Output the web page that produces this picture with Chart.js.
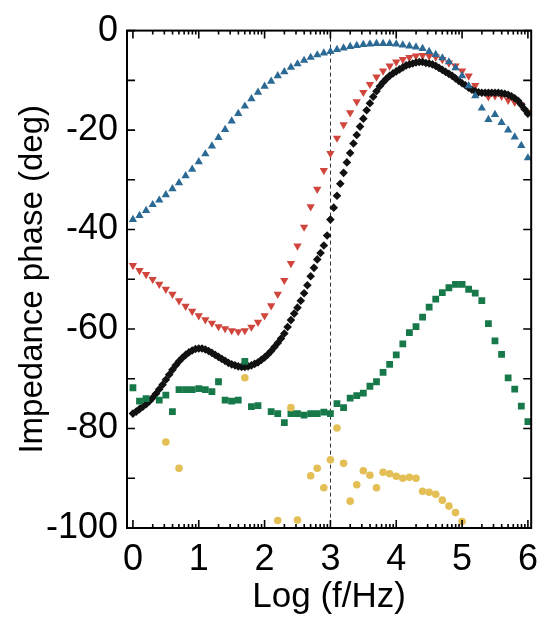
<!DOCTYPE html>
<html>
<head>
<meta charset="utf-8">
<script src="https://cdn.jsdelivr.net/npm/chart.js@4.4.1/dist/chart.umd.min.js"></script>
<style>
  html, body { margin: 0; padding: 0; background: #ffffff; }
  #wrap { width: 548px; height: 620px; }
</style>
</head>
<body>
<div id="wrap"><canvas id="c" width="548" height="620"></canvas></div>
<script>
// ---------------- data ----------------
const logF10 = [0.0,0.1,0.2,0.3,0.4,0.5,0.6,0.7,0.8,0.9,1.0,1.1,1.2,1.3,1.4,1.5,1.6,1.7,1.8,1.9,2.0,2.1,2.2,2.3,2.4,2.5,2.6,2.7,2.8,2.9,3.0,3.1,3.2,3.3,3.4,3.5,3.6,3.7,3.8,3.9,4.0,4.1,4.2,4.3,4.4,4.5,4.6,4.7,4.8,4.9,5.0,5.1,5.2,5.3,5.4,5.5,5.6,5.7,5.8,5.9,6.0];

const bluePhase = [-38.0,-37.2,-36.2,-35.0,-34.1,-33.0,-31.8,-30.6,-29.2,-27.9,-26.4,-24.8,-23.2,-21.5,-19.9,-18.2,-16.7,-15.2,-13.7,-12.4,-11.2,-10.2,-9.1,-8.3,-7.4,-6.7,-6.0,-5.4,-4.9,-4.5,-4.2,-3.8,-3.5,-3.2,-3.0,-2.8,-2.7,-2.6,-2.6,-2.6,-2.7,-2.9,-3.1,-3.3,-3.6,-4.2,-4.8,-5.5,-6.3,-7.5,-9.1,-11.1,-13.1,-15.6,-17.9,-16.9,-18.5,-20.0,-21.4,-23.1,-25.6];

const redPhase = [-47.2,-48.2,-49.0,-50.0,-51.0,-52.0,-53.0,-54.3,-55.4,-56.4,-57.3,-58.1,-58.8,-59.5,-59.9,-60.3,-60.5,-60.3,-59.6,-58.6,-57.3,-55.3,-53.0,-50.2,-46.8,-43.3,-39.5,-35.4,-31.9,-28.1,-24.7,-21.6,-18.9,-16.5,-14.3,-12.4,-10.8,-9.3,-8.1,-7.1,-6.3,-5.8,-5.4,-5.1,-5.0,-5.1,-5.3,-5.8,-6.5,-7.1,-8.1,-9.1,-11.0,-12.4,-13.3,-13.1,-13.2,-14.0,-14.4,-15.0,-16.4];

const logF20 = [0.00,0.05,0.10,0.15,0.20,0.25,0.30,0.35,0.40,0.45,0.50,0.55,0.60,0.65,0.70,0.75,0.80,0.85,0.90,0.95,1.00,1.05,1.10,1.15,1.20,1.25,1.30,1.35,1.40,1.45,1.50,1.55,1.60,1.65,1.70,1.75,1.80,1.85,1.90,1.95,2.00,2.05,2.10,2.15,2.20,2.25,2.30,2.35,2.40,2.45,2.50,2.55,2.60,2.65,2.70,2.75,2.80,2.85,2.90,2.95,3.00,3.05,3.10,3.15,3.20,3.25,3.30,3.35,3.40,3.45,3.50,3.55,3.60,3.65,3.70,3.75,3.80,3.85,3.90,3.95,4.00,4.05,4.10,4.15,4.20,4.25,4.30,4.35,4.40,4.45,4.50,4.55,4.60,4.65,4.70,4.75,4.80,4.85,4.90,4.95,5.00,5.05,5.10,5.15,5.20,5.25,5.30,5.35,5.40,5.45,5.50,5.55,5.60,5.65,5.70,5.75,5.80,5.85,5.90,5.95,6.00];

const blackPhase = [-77.0,-76.6,-76.1,-75.6,-75.1,-74.5,-73.8,-73.0,-72.1,-71.2,-70.2,-69.2,-68.2,-67.3,-66.5,-65.8,-65.2,-64.7,-64.3,-64.0,-63.9,-63.9,-64.1,-64.4,-64.8,-65.2,-65.6,-66.0,-66.4,-66.8,-67.1,-67.3,-67.5,-67.6,-67.6,-67.5,-67.3,-67.0,-66.7,-66.2,-65.7,-65.1,-64.4,-63.6,-62.8,-61.9,-60.9,-59.6,-58.2,-56.9,-55.7,-54.3,-52.8,-51.2,-49.4,-47.7,-46.0,-44.7,-43.2,-41.2,-38.0,-35.6,-33.2,-30.8,-28.6,-26.5,-24.6,-22.7,-21.0,-19.3,-17.7,-16.0,-14.6,-13.3,-12.2,-11.2,-10.4,-9.7,-9.1,-8.6,-8.2,-7.8,-7.4,-7.0,-6.8,-6.6,-6.4,-6.3,-6.3,-6.5,-6.6,-6.8,-7.1,-7.5,-7.9,-8.3,-8.7,-9.1,-9.6,-10.1,-10.6,-11.0,-11.5,-11.9,-12.2,-12.4,-12.5,-12.5,-12.5,-12.5,-12.5,-12.5,-12.6,-12.7,-12.9,-13.2,-13.6,-14.1,-14.9,-15.8,-16.7];

const greenLogF = [0.0,0.1,0.2,0.4,0.5,0.6,0.7,0.8,0.9,1.0,1.1,1.2,1.3,1.4,1.5,1.6,1.7,1.8,1.9,2.1,2.2,2.3,2.4,2.5,2.6,2.7,2.8,2.9,3.0,3.1,3.2,3.3,3.4,3.5,3.6,3.7,3.8,3.9,4.0,4.1,4.2,4.3,4.4,4.5,4.6,4.7,4.8,4.9,5.0,5.1,5.2,5.3,5.4,5.5,5.6,5.7,5.8,5.9,6.0];
const greenPhase = [-71.8,-74.5,-74.0,-74.3,-73.3,-76.6,-72.2,-72.2,-72.2,-72.0,-72.2,-72.6,-70.6,-74.3,-74.5,-74.3,-66.5,-75.6,-75.4,-76.6,-77.0,-78.8,-77.0,-77.0,-77.3,-77.0,-77.0,-76.7,-77.0,-75.0,-75.8,-73.9,-73.4,-72.9,-71.5,-70.6,-68.7,-67.1,-65.2,-63.0,-60.7,-59.5,-57.6,-55.6,-54.0,-52.7,-51.7,-51.0,-51.0,-52.0,-52.8,-54.3,-58.9,-62.4,-65.1,-69.8,-72.1,-75.5,-78.6];

const yellowLogF = [0.5,0.7,1.7,2.2,2.4,2.5,2.7,2.8,2.9,3.0,3.1,3.2,3.3,3.4,3.5,3.6,3.7,3.8,3.9,4.0,4.1,4.2,4.3,4.4,4.5,4.6,4.7,4.8,4.9,5.0];
const yellowPhase = [-82.7,-88.0,-69.8,-98.5,-75.8,-98.4,-89.5,-88.0,-91.9,-86.3,-79.9,-87.0,-94.6,-91.3,-88.5,-89.4,-91.9,-88.8,-89.1,-89.6,-90.0,-89.8,-90.0,-92.6,-92.8,-93.2,-94.4,-95.6,-96.9,-98.7];

const markerLogF = 3;            // dashed reference line
const xTickValues = [0,1,2,3,4,5,6];
const yTickValues = [-100,-80,-60,-40,-20,0];

// ---------------- helpers ----------------
const pts = (xs, ys) => xs.map((x, i) => ({x: x, y: ys[i]}));

const FONT = "'Liberation Sans', Arial, Helvetica, sans-serif";

const frameAndTicks = {
  id: 'frameAndTicks',
  beforeDatasetsDraw(chart) {
    const {ctx, chartArea: a, scales: {x}} = chart;
    const px = Math.round(x.getPixelForValue(markerLogF)) + 0.5;
    ctx.save();
    ctx.strokeStyle = '#333';
    ctx.lineWidth = 1;
    ctx.setLineDash([4, 3]);
    ctx.beginPath();
    ctx.moveTo(px, a.top);
    ctx.lineTo(px, a.bottom);
    ctx.stroke();
    ctx.restore();
  },
  afterDraw(chart) {
    const {ctx, chartArea: a, scales: {x, y}} = chart;
    ctx.save();
    ctx.strokeStyle = '#000';
    ctx.lineWidth = 1.6;
    ctx.beginPath();
    for (let v = -100; v <= 0; v += 10) {
      const py = y.getPixelForValue(v);
      ctx.moveTo(a.left, py); ctx.lineTo(a.left + 8, py);
      ctx.moveTo(a.right, py); ctx.lineTo(a.right - 8, py);
    }
    for (let d = 0; d <= 6; d++) {
      const px = x.getPixelForValue(d);
      ctx.moveTo(px, a.bottom); ctx.lineTo(px, a.bottom - 8);
      ctx.moveTo(px, a.top); ctx.lineTo(px, a.top + 8);
      if (d < 6) {
        for (let k = 2; k <= 9; k++) {
          const pm = x.getPixelForValue(d + Math.log10(k));
          ctx.moveTo(pm, a.bottom); ctx.lineTo(pm, a.bottom - 4);
          ctx.moveTo(pm, a.top); ctx.lineTo(pm, a.top + 4);
        }
      }
    }
    ctx.stroke();
    ctx.lineWidth = 2;
    ctx.strokeRect(a.left, a.top, a.right - a.left, a.bottom - a.top);
    ctx.restore();
  }
};

new Chart(document.getElementById('c'), {
  type: 'scatter',
  data: {
    datasets: [
      { label: 'yellow', data: pts(yellowLogF, yellowPhase), pointStyle: 'circle', pointRadius: 3.8,
        backgroundColor: '#e3bf55', borderColor: '#e3bf55', borderWidth: 0 },
      { label: 'green', data: pts(greenLogF, greenPhase), pointStyle: 'rect', pointRadius: 4.8,
        backgroundColor: '#17784a', borderColor: '#17784a', borderWidth: 0 },
      { label: 'blue', data: pts(logF10, bluePhase), pointStyle: 'triangle', pointRadius: 4.8,
        backgroundColor: '#2c6a96', borderColor: '#2c6a96', borderWidth: 0 },
      { label: 'black', data: pts(logF20, blackPhase), pointStyle: 'rectRot', pointRadius: 4.3,
        backgroundColor: '#111111', borderColor: '#111111', borderWidth: 0 },
      { label: 'red', data: pts(logF10, redPhase), pointStyle: 'triangle', pointRotation: 180, pointRadius: 4.8,
        backgroundColor: '#d0463d', borderColor: '#d0463d', borderWidth: 0 }
    ]
  },
  options: {
    responsive: false,
    animation: false,
    devicePixelRatio: 1,
    layout: { padding: { top: 24, right: 11, left: 0, bottom: 0 } },
    plugins: { legend: { display: false }, tooltip: { enabled: false } },
    scales: {
      x: {
        type: 'linear', position: 'bottom', min: -0.09, max: 6.05,
        grid: { display: false, drawTicks: false },
        border: { display: false },
        afterBuildTicks: s => { s.ticks = xTickValues.map(v => ({value: v})); },
        afterFit: s => { s.height = 92; },
        ticks: { color: '#000', font: { family: FONT, size: 36 }, padding: 10, maxRotation: 0, autoSkip: false },
        title: { display: true, text: 'Log (f/Hz)', color: '#000', font: { family: FONT, size: 35 },
                 padding: { top: 0, bottom: 2 } }
      },
      y: {
        type: 'linear', position: 'left', min: -100, max: 0,
        grid: { display: false, drawTicks: false },
        border: { display: false },
        afterBuildTicks: s => { s.ticks = yTickValues.map(v => ({value: v})); },
        afterFit: s => { s.width = 127; },
        ticks: { color: '#000', font: { family: FONT, size: 36 }, padding: 9, autoSkip: false },
        title: { display: true, text: 'Impedance phase (deg)', color: '#000', font: { family: FONT, size: 33 },
                 padding: { top: 13, bottom: 0 } }
      }
    }
  },
  plugins: [frameAndTicks]
});
</script>
</body>
</html>
